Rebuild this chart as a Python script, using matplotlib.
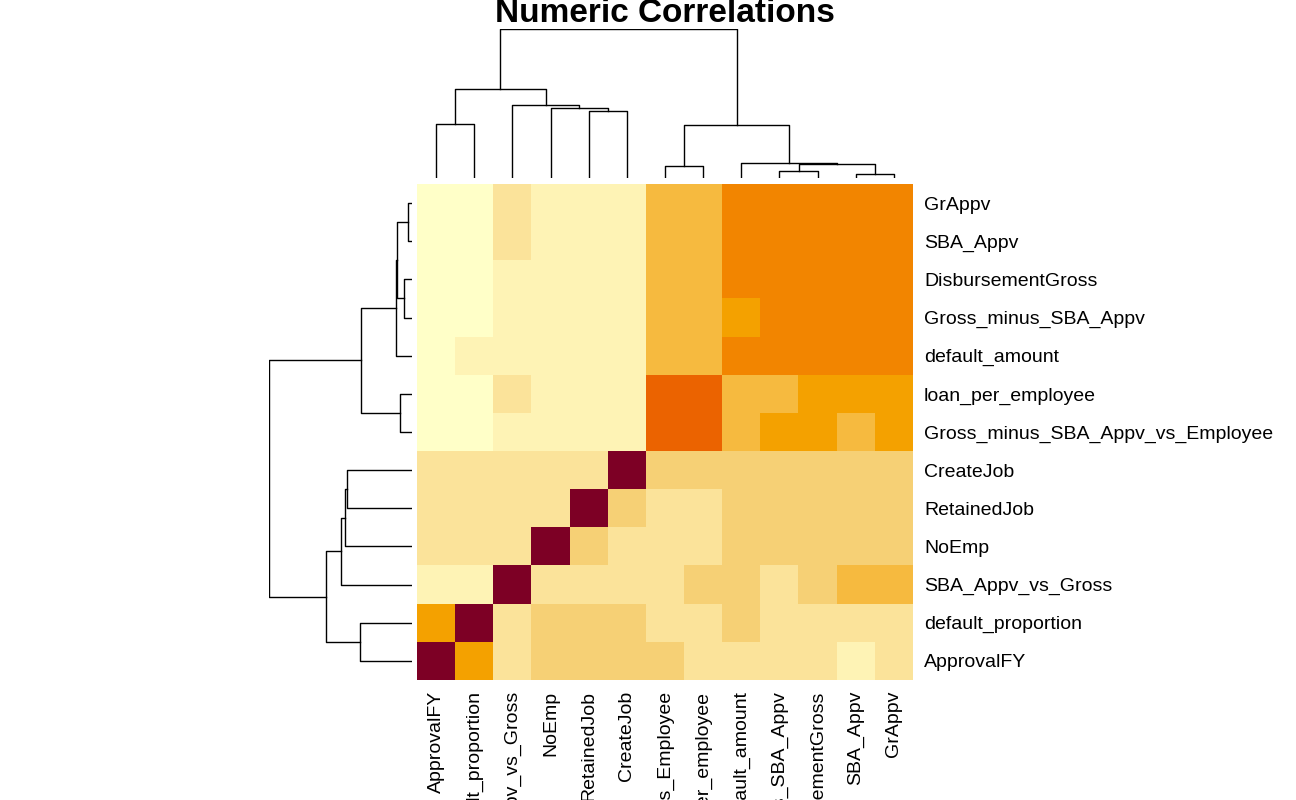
import numpy as np
import matplotlib.pyplot as plt
from matplotlib.colors import ListedColormap

plt.rcParams['font.family'] = ['Liberation Sans', 'DejaVu Sans']

col_labels = ['ApprovalFY', 'default_proportion', 'SBA_Appv_vs_Gross', 'NoEmp', 'RetainedJob',
              'CreateJob', 'Gross_minus_SBA_Appv_vs_Employee', 'loan_per_employee', 'default_amount',
              'Gross_minus_SBA_Appv', 'DisbursementGross', 'SBA_Appv', 'GrAppv']
row_labels = ['GrAppv', 'SBA_Appv', 'DisbursementGross', 'Gross_minus_SBA_Appv', 'default_amount',
              'loan_per_employee', 'Gross_minus_SBA_Appv_vs_Employee', 'CreateJob', 'RetainedJob',
              'NoEmp', 'SBA_Appv_vs_Gross', 'default_proportion', 'ApprovalFY']

# colour levels (0 = lightest, 8 = diagonal)
levels = np.array([
    [0, 0, 2, 1, 1, 1, 4, 4, 6, 6, 6, 6, 6],
    [0, 0, 2, 1, 1, 1, 4, 4, 6, 6, 6, 6, 6],
    [0, 0, 1, 1, 1, 1, 4, 4, 6, 6, 6, 6, 6],
    [0, 0, 1, 1, 1, 1, 4, 4, 5, 6, 6, 6, 6],
    [0, 1, 1, 1, 1, 1, 4, 4, 6, 6, 6, 6, 6],
    [0, 0, 2, 1, 1, 1, 7, 7, 4, 4, 5, 5, 5],
    [0, 0, 1, 1, 1, 1, 7, 7, 4, 5, 5, 4, 5],
    [2, 2, 2, 2, 2, 8, 3, 3, 3, 3, 3, 3, 3],
    [2, 2, 2, 2, 8, 3, 2, 2, 3, 3, 3, 3, 3],
    [2, 2, 2, 8, 3, 2, 2, 2, 3, 3, 3, 3, 3],
    [1, 1, 8, 2, 2, 2, 2, 3, 3, 2, 3, 4, 4],
    [5, 8, 2, 3, 3, 3, 2, 2, 3, 2, 2, 2, 2],
    [8, 5, 2, 3, 3, 3, 3, 2, 2, 2, 2, 1, 2],
])
palette = ['#FFFFC8', '#FEF3B5', '#FBE39A', '#F6D075', '#F6BA3F',
           '#F4A100', '#F28500', '#EB6300', '#7D0025']

# dendrograms: (left, right, height); leaves are positions
col_tree = (((0, 1, 54), (2, (3, (4, 5, 67), 70), 73), 89),
            ((6, 7, 12), (8, ((9, 10, 7), (11, 12, 4), 14.5), 15), 53), 149)
row_tree = (((((0, 1, 4), (2, 3, 8), 15), 4, 16), (5, 6, 12), 51),
            ((((7, 8, 65), 9, 67), 10, 71), (11, 12, 52), 86), 143)


def draw_tree(ax, node, horizontal):
    # returns (center position, height) of the node
    if not isinstance(node, tuple):
        return node, 0
    lx, lh = draw_tree(ax, node[0], horizontal)
    rx, rh = draw_tree(ax, node[1], horizontal)
    h = node[2]
    xs, ys = [lx, lx, rx, rx], [lh, h, h, rh]
    if horizontal:
        ax.plot(xs, ys, color='black', lw=1)
    else:
        ax.plot(ys, xs, color='black', lw=1)
    return (lx + rx) / 2, h


fig = plt.figure(figsize=(12.96, 8), dpi=100)
W, H = 1296, 800

ax = fig.add_axes([417 / W, 1 - 680 / H, 496 / W, 496 / H])
ax.imshow(levels, cmap=ListedColormap(palette), vmin=-0.5, vmax=8.5,
          aspect='auto', interpolation='nearest')
ax.set_xticks(range(len(col_labels)))
ax.set_xticklabels(col_labels, rotation=90, fontsize=14)
ax.set_yticks(range(len(row_labels)))
ax.set_yticklabels(row_labels, fontsize=14)
ax.yaxis.tick_right()
ax.tick_params(length=0, pad=8)
for s in ax.spines.values():
    s.set_visible(False)

axc = fig.add_axes([417 / W, 1 - 178 / H, 496 / W, 149 / H])
draw_tree(axc, col_tree, True)
axc.set_xlim(-0.5, 12.5)
axc.set_ylim(0, 149)
axc.axis('off')

axr = fig.add_axes([269 / W, 1 - 680 / H, 143 / W, 496 / H])
draw_tree(axr, row_tree, False)
axr.set_xlim(143, 0)
axr.set_ylim(12.5, -0.5)
axr.axis('off')

fig.text(665 / W, 1 - 13 / H, 'Numeric Correlations', ha='center', va='center',
         fontsize=24, fontweight='bold')

fig.savefig('out.png', dpi=100)
